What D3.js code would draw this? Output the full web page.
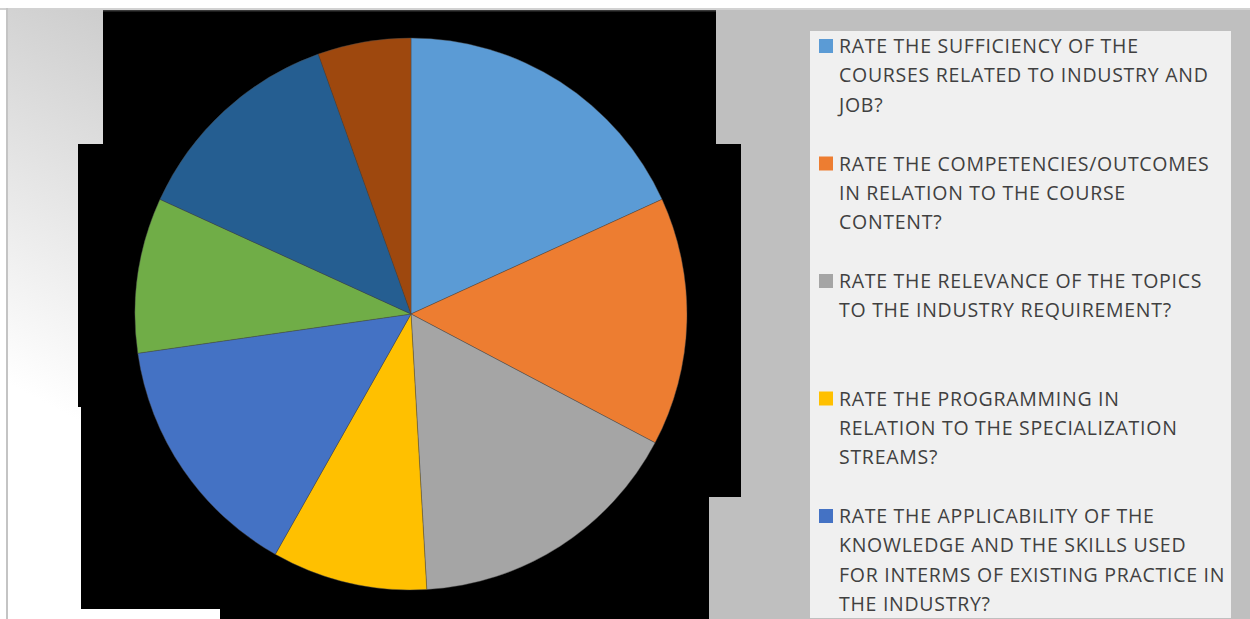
<!DOCTYPE html>
<html>
<head>
<meta charset="utf-8">
<script src="https://cdn.jsdelivr.net/npm/d3@7"></script>
<style>
  body { margin: 0; background: #ffffff; }
  svg { display: block; }
</style>
</head>
<body>
<div id="chart"></div>
<script>
// slice categories (clockwise from 12 o'clock) and counts
var categories = [
  "RATE THE SUFFICIENCY OF THE COURSES RELATED TO INDUSTRY AND JOB?",
  "RATE THE COMPETENCIES/OUTCOMES IN RELATION TO THE COURSE CONTENT?",
  "RATE THE RELEVANCE OF THE TOPICS TO THE INDUSTRY REQUIREMENT?",
  "RATE THE PROGRAMMING IN RELATION TO THE SPECIALIZATION STREAMS?",
  "RATE THE APPLICABILITY OF THE KNOWLEDGE AND THE SKILLS USED FOR INTERMS OF EXISTING PRACTICE IN THE INDUSTRY?",
  "QUESTION 6",
  "QUESTION 7",
  "QUESTION 8"
];
var values = [10, 8, 9, 5, 8, 5, 7, 3];
var colors = ["#5B9BD5", "#ED7D31", "#A5A5A5", "#FFC000", "#4472C4", "#70AD47", "#255E91", "#9E480E"];

// legend text as it wraps in the picture (last three entries fall below the visible box)
var legendLines = [
  ["RATE THE SUFFICIENCY OF THE", "COURSES RELATED TO INDUSTRY AND", "JOB?"],
  ["RATE THE COMPETENCIES/OUTCOMES", "IN RELATION TO THE COURSE", "CONTENT?"],
  ["RATE THE RELEVANCE OF THE TOPICS", "TO THE INDUSTRY REQUIREMENT?"],
  ["RATE THE PROGRAMMING IN", "RELATION TO THE SPECIALIZATION", "STREAMS?"],
  ["RATE THE APPLICABILITY OF THE", "KNOWLEDGE AND THE SKILLS USED", "FOR INTERMS OF EXISTING PRACTICE IN", "THE INDUSTRY?"],
  ["QUESTION 6"], ["QUESTION 7"], ["QUESTION 8"]
];

var W = 1250, H = 619;
var svg = d3.select("#chart").append("svg")
    .attr("width", W)
    .attr("height", H);

var defs = svg.append("defs");
var grad = defs.append("linearGradient")
    .attr("id", "bgGrad")
    .attr("gradientUnits", "userSpaceOnUse")
    .attr("x1", 220).attr("y1", 10)
    .attr("x2", 20).attr("y2", 390);
grad.append("stop").attr("offset", 0).attr("stop-color", "#c6c6c6");
grad.append("stop").attr("offset", 1).attr("stop-color", "#ffffff");

// frame lines
svg.append("rect").attr("x", 0).attr("y", 8).attr("width", W).attr("height", 2).attr("fill", "#d2d2d2");
svg.append("rect").attr("x", 6).attr("y", 8).attr("width", 2).attr("height", H - 8).attr("fill", "#c4c4c4");

// backgrounds
svg.append("rect").attr("x", 8).attr("y", 10).attr("width", 400).attr("height", H - 10).attr("fill", "url(#bgGrad)");
svg.append("rect").attr("x", 700).attr("y", 10).attr("width", W - 700).attr("height", H - 10).attr("fill", "#bfbfbf");

// black backdrop shape
var back = [[103,10],[716,10],[716,144],[741,144],[741,497],[709,497],[709,619],
            [220,619],[220,609],[81,609],[81,407],[78,407],[78,144],[103,144]];
svg.append("path")
    .attr("d", d3.line()(back) + "Z")
    .attr("fill", "#000000");
svg.append("rect").attr("x", 103).attr("y", 10).attr("width", 613).attr("height", 1.5).attr("fill", "#3a3a3a");

// pie
var cx = 411, cy = 314, radius = 276;
var pie = d3.pie().sort(null).value(function(d) { return d; });
var arc = d3.arc().innerRadius(0).outerRadius(radius);

var g = svg.append("g").attr("transform", "translate(" + cx + "," + cy + ")");
g.selectAll("path.slice")
    .data(pie(values))
    .enter().append("path")
    .attr("class", "slice")
    .attr("d", arc)
    .attr("fill", function(d, i) { return colors[i]; })
    .attr("stroke", "#4a4a4a")
    .attr("stroke-width", 0.6)
    .attr("stroke-opacity", 0.7);

// legend
var lx = 810, ly = 31;
svg.append("rect")
    .attr("x", lx).attr("y", ly)
    .attr("width", 421).attr("height", H - ly - 1)
    .attr("fill", "#f0f0f0");

var lineH = 29.4;
var entryY = d3.scaleLinear().domain([0, 1]).range([46, 46 + 117.5]);

// only the entries that start inside the box are shown
var shown = categories.filter(function(d, i) { return entryY(i) < H; });

var legend = svg.append("g")
    .attr("font-family", "'Open Sans', sans-serif")
    .attr("font-size", "19.5px")
    .attr("letter-spacing", "0.72px")
    .attr("fill", "#404040");

var items = legend.selectAll("g.item")
    .data(shown)
    .enter().append("g")
    .attr("class", "item")
    .attr("transform", function(d, i) { return "translate(0," + entryY(i) + ")"; });

items.append("rect")
    .attr("x", 819).attr("y", -7)
    .attr("width", 14).attr("height", 14)
    .attr("fill", function(d, i) { return colors[i]; });

items.append("text")
    .attr("x", 839)
    .each(function(d, i) {
      var t = d3.select(this);
      legendLines[i].forEach(function(line, k) {
        t.append("tspan")
          .attr("x", 839)
          .attr("y", k * lineH)
          .attr("dy", "0.36em")
          .text(line);
      });
    });
</script>
</body>
</html>
